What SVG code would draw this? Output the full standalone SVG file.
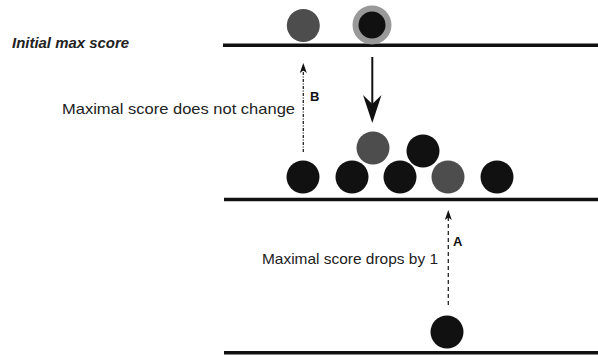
<svg xmlns="http://www.w3.org/2000/svg" width="598" height="356" viewBox="0 0 598 356">
<defs>
<path id="headSmall" d="M0,0 L3.5,10 L0,7.5 L-3.5,10 Z" fill="#111"/>
</defs>
<style>
.floor{stroke:#111;stroke-width:3.5;fill:none}
.black{fill:#111}
.grey{fill:#4d4d4d}
.ring{fill:#999}
.lbl{font-family:"Liberation Sans",Arial,sans-serif;font-size:14.5px;fill:#222}
.tag{font-family:"Liberation Sans",Arial,sans-serif;font-size:13px;font-weight:bold;fill:#111}
.dash{stroke:#222;stroke-width:1.3;fill:none}
</style>
<rect width="598" height="356" fill="#fff"/>
<g id="floors">
<line class="floor" x1="223" y1="45.3" x2="598" y2="45.3"/>
<line class="floor" x1="224" y1="199.5" x2="598" y2="199.5"/>
<line class="floor" x1="224" y1="352.8" x2="598" y2="352.8"/>
</g>
<text class="lbl" x="12" y="48" style="font-weight:bold;font-style:italic" textLength="117" lengthAdjust="spacingAndGlyphs">Initial max score</text>
<text class="lbl" x="62" y="114" textLength="233" lengthAdjust="spacingAndGlyphs">Maximal score does not change</text>
<text class="lbl" x="262" y="264" textLength="176" lengthAdjust="spacingAndGlyphs">Maximal score drops by 1</text>
<g id="top-grey"><circle class="grey" cx="303.3" cy="25.5" r="16.5"/></g>
<g id="top-ring"><circle class="ring" cx="372" cy="25" r="19.5"/><circle class="black" cx="372" cy="25" r="13.5"/></g>
<g id="mid-1"><circle class="black" cx="303" cy="177" r="16.5"/></g>
<g id="mid-2"><circle class="black" cx="352" cy="177" r="16.5"/></g>
<g id="mid-3"><circle class="black" cx="400" cy="177" r="16.5"/></g>
<g id="mid-4"><circle class="black" cx="423" cy="151" r="16.5"/></g>
<g id="mid-5"><circle class="grey" cx="373" cy="148" r="16.5"/></g>
<g id="mid-6"><circle class="grey" cx="448" cy="177" r="16.5"/></g>
<g id="mid-7"><circle class="black" cx="497" cy="177" r="16.5"/></g>
<g id="bottom"><circle class="black" cx="447" cy="332" r="16.5"/></g>
<g id="connectors">
<line x1="372.3" y1="57" x2="372.3" y2="106" stroke="#111" stroke-width="2"/>
<path d="M372.3,123 L381.5,95 L372.3,104 L363,95 Z" fill="#111"/>
<line class="dash" x1="303.3" y1="152" x2="303.3" y2="69" stroke-dasharray="3,1.5,1,1.5"/>
<use href="#headSmall" x="303.3" y="63"/>
<line class="dash" x1="448.3" y1="305" x2="448.3" y2="216" stroke-dasharray="4,3"/>
<use href="#headSmall" x="448.3" y="210"/>
</g>
<text class="tag" x="310" y="101">B</text>
<text class="tag" x="453" y="246">A</text>
</svg>
